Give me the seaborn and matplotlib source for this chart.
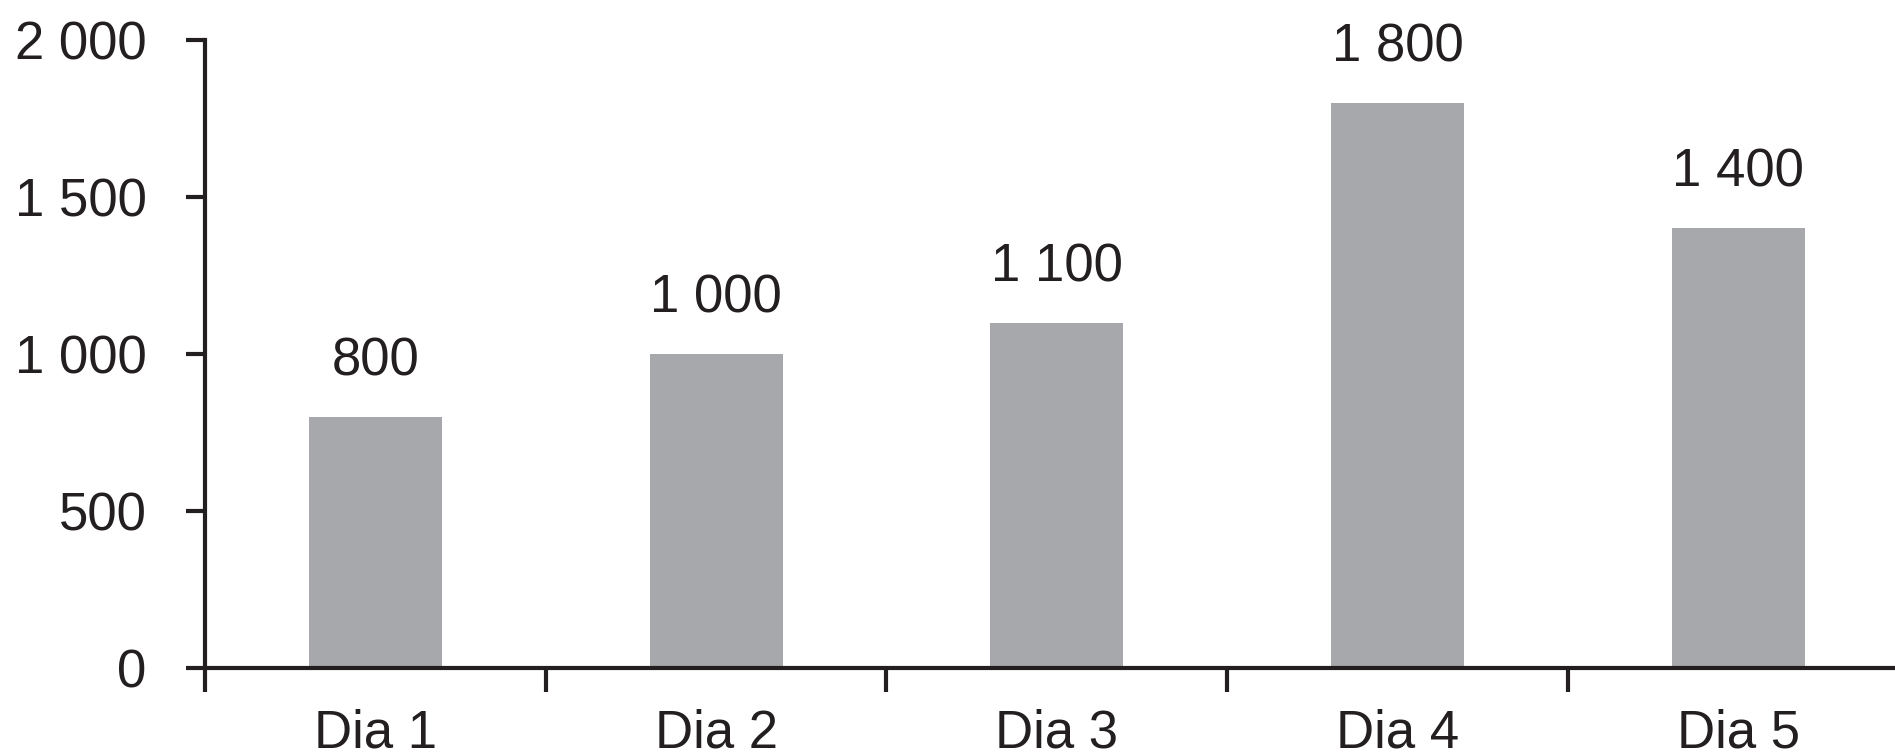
import matplotlib
matplotlib.use("Agg")
import matplotlib.pyplot as plt
import seaborn as sns
import pandas as pd
from matplotlib.ticker import FixedLocator, FuncFormatter

categories = ["Dia 1", "Dia 2", "Dia 3", "Dia 4", "Dia 5"]
values = [800, 1000, 1100, 1800, 1400]
y_ticks = [0, 500, 1000, 1500, 2000]

sns.set_theme(style="white")
plt.rcParams['font.family'] = ['Liberation Sans', 'DejaVu Sans']

INK = "#231f20"
BAR = "#a7a8ab"

df = pd.DataFrame({"dia": categories, "valor": values})

fig = plt.figure(figsize=(18.95, 7.56), dpi=100)
ax = fig.add_axes([0.1082, 0.1164, 0.8918, 0.8307])

sns.barplot(data=df, x="dia", y="valor", color=BAR, width=0.39,
            saturation=1, ax=ax, edgecolor=BAR, linewidth=0)

def fmt(v, pos=None):
    return f"{int(round(v)):,}".replace(",", " ")

ax.bar_label(ax.containers[0], labels=[fmt(v) for v in values],
             padding=22, fontsize=38, color=INK)

ax.set_ylim(0, 2000)
ax.set_xlim(-0.5, 4.46)
ax.yaxis.set_major_locator(FixedLocator(y_ticks))
ax.yaxis.set_major_formatter(FuncFormatter(fmt))

ax.set_xticks(range(len(categories)))
ax.set_xticklabels(categories)
ax.xaxis.set_minor_locator(FixedLocator([i - 0.5 for i in range(len(categories))]))

ax.set_xlabel("")
ax.set_ylabel("")

for s in ["top", "right"]:
    ax.spines[s].set_visible(False)
for s in ["left", "bottom"]:
    ax.spines[s].set_color(INK)
    ax.spines[s].set_linewidth(3)

ax.tick_params(axis="y", which="major", direction="out", length=14, width=3,
               color=INK, labelsize=38, labelcolor=INK, pad=28, left=True)
ax.tick_params(axis="x", which="major", length=0, labelsize=38,
               labelcolor=INK, pad=29)
ax.tick_params(axis="x", which="minor", direction="out", length=17, width=3,
               color=INK, bottom=True)

fig.savefig("out.png", dpi=100, facecolor="white")
